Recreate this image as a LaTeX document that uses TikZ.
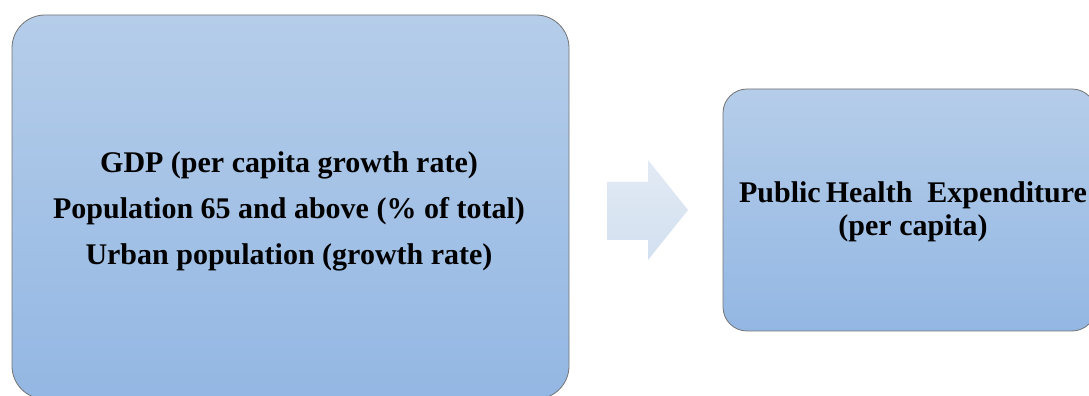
\documentclass[tikz,border=0pt]{standalone}
\usepackage{fontspec}
\setmainfont{Liberation Serif}
\begin{document}
\begin{tikzpicture}[x=1pt,y=1pt,
  panel/.style={draw=black!55, line width=0.8pt, rounded corners=33pt,
    top color=boxtop, bottom color=boxbot},
  label/.style={align=center, font=\bfseries\fontsize{30}{46}\selectfont}]
\definecolor{boxtop}{HTML}{B5CDE9}
\definecolor{boxbot}{HTML}{93B7E3}
\definecolor{arrtop}{HTML}{E2EAF4}
\definecolor{arrbot}{HTML}{D3E0F0}
\useasboundingbox (0,0) rectangle (1089,396);
% input and outcome panels
\begin{scope}
\clip (0,0) rectangle (1089,396);
\path[panel] (12,-3) rectangle (569,381);
\path[panel, rounded corners=24pt] (723,65) rectangle (1096,307);
\end{scope}
\node[label] (inputs) at (289,185) {GDP (per capita growth rate)\\Population 65 and above (\% of total)\\Urban population (growth rate)};
\node[label, font=\bfseries\fontsize{30}{33}\selectfont] (outcome) at (913,184) {Public\,Health\ \ Expenditure\\(per capita)};
% block arrow between the panels
\path[top color=arrtop, bottom color=arrbot]
  (607,214) -- (648,214) -- (648,236) -- (688,186) -- (648,136) -- (648,156) -- (607,156) -- cycle;
\end{tikzpicture}
\end{document}
